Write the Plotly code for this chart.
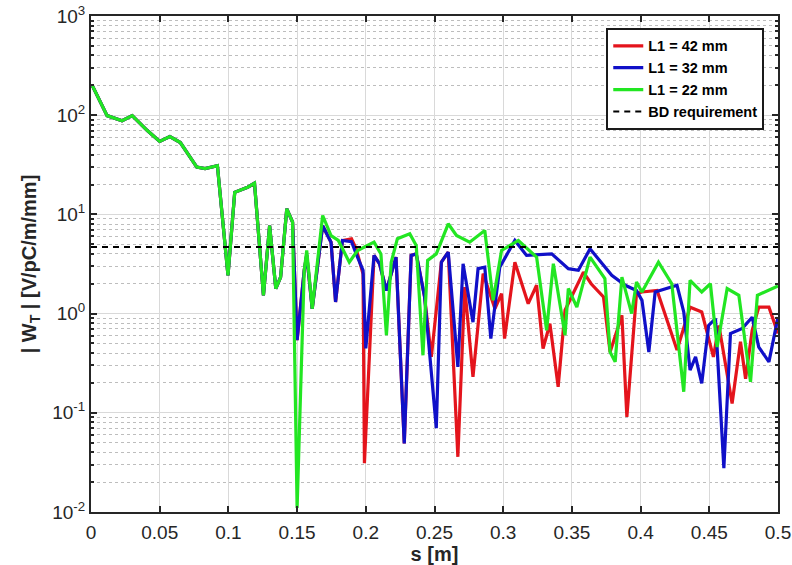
import plotly.graph_objects as go

# ---------------- data ----------------
s_common = [0.001, 0.0117, 0.0226, 0.030, 0.041, 0.050, 0.0574, 0.065, 0.077, 0.083,
            0.092, 0.0997, 0.1046, 0.114, 0.119, 0.1255, 0.130, 0.1345, 0.138, 0.1425, 0.1467]
w_common = [198, 99, 88, 99, 70, 54.5, 61, 53, 30, 29,
            31, 2.43, 16.7, 18.8, 20.6, 1.53, 7.7, 1.79, 2.33, 11.4, 8.35]

s_42 = [0.150, 0.1552, 0.157, 0.161, 0.1686, 0.1747, 0.178, 0.183, 0.1896, 0.193,
        0.198, 0.199, 0.206, 0.210, 0.215, 0.222, 0.228, 0.233, 0.2367, 0.2428,
        0.2477, 0.255, 0.260, 0.267, 0.272, 0.278, 0.2854, 0.294, 0.2988, 0.301,
        0.3085, 0.3182, 0.3243, 0.329, 0.334, 0.340, 0.345, 0.3584, 0.364, 0.373,
        0.3778, 0.3864, 0.390, 0.397, 0.401, 0.412, 0.4265, 0.436, 0.4445, 0.453,
        0.457, 0.4666, 0.4727, 0.4764, 0.4812, 0.486, 0.4934, 0.500]
w_42 = [0.54, 2.73, 3.9, 1.12, 7.7, 5.25, 1.31, 5.46, 5.69, 4.5,
        2.5, 0.031, 3.86, 3.18, 1.71, 3.71, 0.049, 3.86, 4.0, 1.47,
        0.366, 3.3, 4.17, 0.036, 1.85, 0.23, 2.53, 1.12, 1.59, 0.56,
        3.3, 1.26, 1.93, 0.445, 0.79, 0.183, 1.08, 2.62, 2.0, 1.47,
        0.41, 0.96, 0.091, 1.59, 1.65, 1.71, 0.43, 1.16, 1.04, 0.366,
        0.76, 0.124, 0.52, 0.22, 0.68, 1.16, 1.16, 0.63]

s_32 = [0.150, 0.1552, 0.157, 0.161, 0.1686, 0.1747, 0.178, 0.183, 0.1896, 0.193,
        0.198, 0.200, 0.206, 0.210, 0.215, 0.222, 0.228, 0.233, 0.2367, 0.2428,
        0.2513, 0.255, 0.260, 0.267, 0.2708, 0.278, 0.2817, 0.2866, 0.291, 0.2975,
        0.3085, 0.317, 0.3353, 0.3474, 0.3547, 0.3632, 0.379, 0.3888, 0.397, 0.401,
        0.406, 0.4106, 0.4265, 0.4314, 0.436, 0.440, 0.4445, 0.4495, 0.4545, 0.4606,
        0.4654, 0.474, 0.4812, 0.486, 0.4934, 0.500]
w_32 = [0.54, 2.73, 3.9, 1.12, 7.7, 5.25, 1.31, 5.46, 5.3, 4.0,
        2.73, 0.445, 3.86, 3.18, 1.71, 3.71, 0.049, 3.86, 4.0, 1.47,
        0.07, 3.3, 4.17, 0.29, 3.18, 0.82, 2.84, 2.94, 0.56, 2.94,
        5.46, 3.86, 4.0, 2.84, 2.73, 4.5, 2.43, 1.93, 1.71, 1.36,
        0.41, 1.65, 1.93, 1.04, 0.27, 0.366, 0.198, 0.76, 0.89, 0.0276,
        0.63, 0.71, 0.92, 0.46, 0.326, 0.92]

s_22 = [0.150, 0.1552, 0.157, 0.161, 0.1686, 0.1747, 0.180, 0.188, 0.194, 0.206,
        0.211, 0.215, 0.2185, 0.223, 0.232, 0.2367, 0.2416, 0.245, 0.2513, 0.260,
        0.266, 0.2756, 0.2866, 0.2927, 0.2988, 0.311, 0.3243, 0.3316, 0.3365, 0.345,
        0.3474, 0.3536, 0.3632, 0.374, 0.3778, 0.3815, 0.3864, 0.3935, 0.397, 0.401,
        0.413, 0.4227, 0.4314, 0.436, 0.4445, 0.4508, 0.4557, 0.463, 0.4715, 0.480,
        0.485, 0.500]
w_22 = [0.011, 2.73, 4.33, 1.12, 9.75, 6.1, 5.46, 3.3, 4.33, 5.25,
        4.0, 0.605, 3.3, 5.69, 6.38, 4.87, 0.38, 3.44, 4.0, 8.04,
        6.14, 5.25, 6.89, 1.36, 4.33, 5.46, 3.71, 0.68, 3.18, 0.605,
        1.79, 1.16, 3.71, 2.25, 0.41, 0.326, 2.33, 1.0, 2.08, 1.65,
        3.3, 2.0, 0.163, 2.16, 1.65, 2.0, 0.46, 1.79, 1.53, 0.205,
        1.53, 1.9]

bd_s = [0.0, 0.5]
bd_level = [4.7, 4.7]

series_names = ["L1 = 42 mm", "L1 = 32 mm", "L1 = 22 mm", "BD requirement"]
x_ticks = [0, 0.05, 0.1, 0.15, 0.2, 0.25, 0.3, 0.35, 0.4, 0.45, 0.5]
x_ticktext = ["0", "0.05", "0.1", "0.15", "0.2", "0.25", "0.3", "0.35", "0.4", "0.45", "0.5"]
y_ticks = [0.01, 0.1, 1, 10, 100, 1000]
y_ticktext = ["10<sup>-2</sup>", "10<sup>-1</sup>", "10<sup>0</sup>",
              "10<sup>1</sup>", "10<sup>2</sup>", "10<sup>3</sup>"]

# ---------------- figure ----------------
FONT = "Liberation Sans, Arial, sans-serif"
fig = go.Figure()

colors = ["#e4141c", "#1010c8", "#22e622"]
for name, sx, wy, col in [(series_names[0], s_42, w_42, colors[0]),
                          (series_names[1], s_32, w_32, colors[1]),
                          (series_names[2], s_22, w_22, colors[2])]:
    fig.add_trace(go.Scatter(x=s_common + sx, y=w_common + wy, mode="lines", name=name,
                             line=dict(color=col, width=3.2)))

fig.add_trace(go.Scatter(x=bd_s, y=bd_level, mode="lines", name=series_names[3],
                         line=dict(color="black", width=2, dash="6px,5px")))

minor_vals = [m * 10 ** e for e in range(-2, 3) for m in range(2, 10)]

fig.update_layout(
    width=792, height=565,
    margin=dict(l=91, r=14, t=16, b=53),
    paper_bgcolor="white", plot_bgcolor="white",
    font=dict(family=FONT, size=16, color="#262626"),
    showlegend=True,
    legend=dict(x=0.98, y=0.976, xanchor="right", yanchor="top",
                bgcolor="white", bordercolor="#1a1a1a", borderwidth=2,
                font=dict(family=FONT, size=14.5, color="black", weight="bold"),
                itemwidth=30, tracegroupgap=0),
)

fig.update_xaxes(
    range=[0, 0.5], tickvals=x_ticks, ticktext=x_ticktext, automargin=False,
    showgrid=True, gridcolor="#d9d9d9", gridwidth=1,
    zeroline=False, showline=True, linecolor="#262626", linewidth=2, mirror="ticks",
    ticks="inside", ticklen=6, tickcolor="#262626", tickwidth=1.5,
    tickfont=dict(size=19, color="#262626"), ticklabelstandoff=2,
    ticklabeloverflow="allow",
    title=dict(text="s [m]", font=dict(size=20, color="#262626", weight="bold"), standoff=6),
)
fig.update_yaxes(
    type="log", range=[-2, 3], tickvals=y_ticks, ticktext=y_ticktext, automargin=False,
    showgrid=True, gridcolor="#d9d9d9", gridwidth=1,
    zeroline=False, showline=True, linecolor="#262626", linewidth=2, mirror="ticks",
    ticks="inside", ticklen=6, tickcolor="#262626", tickwidth=1.5,
    tickfont=dict(size=19, color="#262626"), ticklabelstandoff=0,
    ticklabeloverflow="allow",
    minor=dict(tickmode="array", tickvals=minor_vals, ticks="inside", ticklen=3,
               tickcolor="#262626", showgrid=True, gridcolor="#bdbdbd",
               griddash="dot", gridwidth=1),
    title=dict(text="| W<sub>T</sub> | [V/pC/m/mm]",
               font=dict(size=20, color="#262626", weight="bold"), standoff=10),
)

# remove the default page margin so the figure sits at the window's corner
fig.write_html("out.html",
               config={"displayModeBar": False},
               post_script="document.body.style.margin='0';document.body.style.overflow='hidden';")
